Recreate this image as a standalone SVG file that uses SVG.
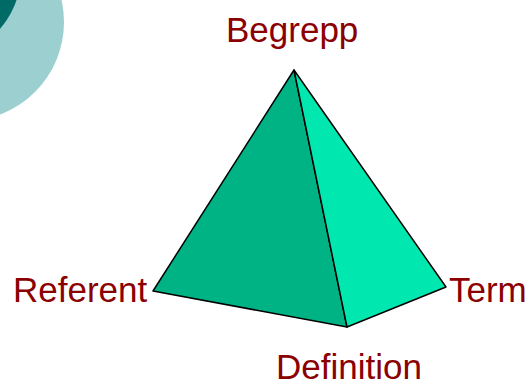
<svg xmlns="http://www.w3.org/2000/svg" width="532" height="385" viewBox="0 0 532 385">
<style>
.lbl{font-family:"Liberation Sans",Arial,sans-serif;font-size:35px;fill:#8B0000}
.edge{stroke:#000;stroke-width:1.5;stroke-linejoin:round}
</style>
<rect width="532" height="385" fill="#fff"/>
<g id="background">
<circle cx="-35" cy="22" r="99" fill="#9CCFCF"/>
<circle cx="-60" cy="-25" r="80.5" fill="#006B66"/>
</g>
<g id="pyramid">
<polygon class="edge" points="294,70 153,291 347,327" fill="#00B384"/>
<polygon class="edge" points="294,70 347,327 446,287" fill="#00E8B0"/>
</g>
<g id="node-begrepp"><text class="lbl" x="226" y="42">Begrepp</text></g>
<g id="node-referent"><text class="lbl" x="13" y="302">Referent</text></g>
<g id="node-definition"><text class="lbl" x="276" y="379">Definition</text></g>
<g id="node-term"><text class="lbl" x="449" y="302">Term</text></g>
<g id="connectors"></g>
</svg>
